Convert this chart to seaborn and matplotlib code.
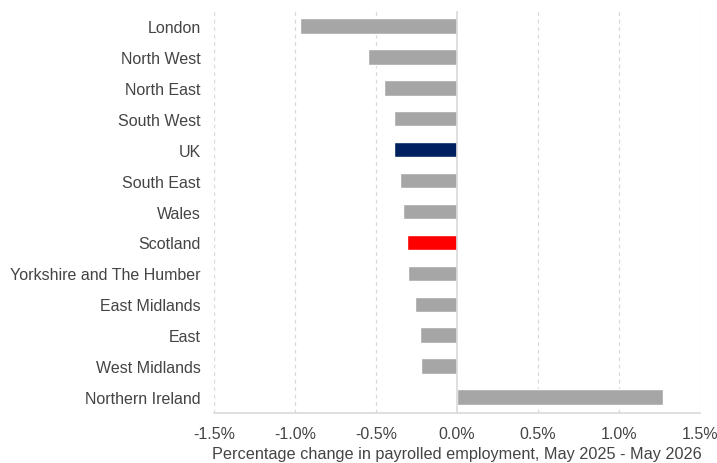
import matplotlib
matplotlib.use("Agg")
import matplotlib.pyplot as plt
import seaborn as sns
import pandas as pd
from matplotlib.ticker import FuncFormatter

regions = ["London", "North West", "North East", "South West", "UK", "South East",
           "Wales", "Scotland", "Yorkshire and The Humber", "East Midlands", "East",
           "West Midlands", "Northern Ireland"]
change_pct = [-0.97, -0.55, -0.45, -0.39, -0.39, -0.35, -0.33, -0.31, -0.30,
              -0.26, -0.23, -0.22, 1.27]
x_ticks = [-1.5, -1.0, -0.5, 0.0, 0.5, 1.0, 1.5]

grey, navy, red = "#a6a6a6", "#002060", "#ff0000"
palette = {r: grey for r in regions}
palette["UK"] = navy
palette["Scotland"] = red

df = pd.DataFrame({"region": regions, "change": change_pct})

sns.set_theme(style="white")
plt.rcParams["font.family"] = ["Liberation Sans", "DejaVu Sans"]
text_col = "#444444"

fig = plt.figure(figsize=(7.17, 4.64), dpi=100)
ax = fig.add_axes([0.2985, 0.1088, 0.6775, 0.8664])

sns.barplot(data=df, y="region", x="change", hue="region", palette=palette,
            order=regions, hue_order=regions, orient="h", width=0.5,
            legend=False, saturation=1, ax=ax, zorder=3)

ax.set_xlim(-1.5, 1.5)
ax.set_ylim(len(regions) - 0.5, -0.5)
ax.set_xticks(x_ticks)
ax.xaxis.set_major_formatter(FuncFormatter(lambda v, _: f"{v:.1f}%"))

for v in x_ticks:
    if v == 0:
        ax.axvline(v, color="#d9d9d9", lw=1.2, zorder=4)
    else:
        ax.axvline(v, color="#d9d9d9", lw=0.9, ls=(0, (3, 3)), zorder=1)

for s in ["top", "right", "left"]:
    ax.spines[s].set_visible(False)
ax.spines["bottom"].set_color("#d9d9d9")
ax.spines["bottom"].set_linewidth(1.2)

ax.tick_params(axis="both", length=0, labelsize=11.5, labelcolor=text_col)
ax.tick_params(axis="y", pad=9.5)
ax.tick_params(axis="x", pad=10)
ax.set_ylabel("")
ax.set_xlabel("Percentage change in payrolled employment, May 2025 - May 2026",
              fontsize=11.7, color=text_col, labelpad=3)

fig.savefig("out.png", dpi=100)
